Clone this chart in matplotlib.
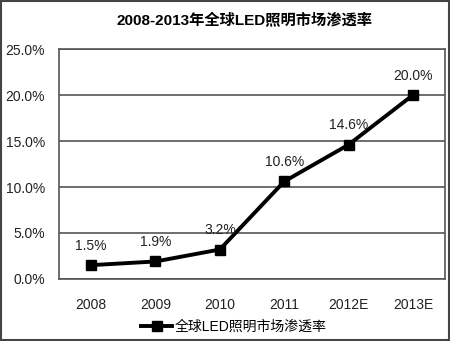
import matplotlib
matplotlib.use("Agg")
import matplotlib.pyplot as plt
from matplotlib.patches import Rectangle

plt.rcParams['font.family'] = ['Liberation Sans', 'Noto Sans CJK SC', 'DejaVu Sans']

categories = ["2008", "2009", "2010", "2011", "2012E", "2013E"]
values = [1.5, 1.9, 3.2, 10.6, 14.6, 20.0]
yticks = [0, 5, 10, 15, 20, 25]
title = "2008-2013年全球LED照明市场渗透率"
series_name = "全球LED照明市场渗透率"

fig = plt.figure(figsize=(4.5, 3.41), dpi=100)
ax = fig.add_axes([0.131, 0.182, 0.858, 0.674])

x = list(range(len(categories)))
ax.plot(x, values, color="black", lw=2.8, marker="s", ms=7, label=series_name)
for xi, v in zip(x, values):
    ax.annotate(f"{v:.1f}%", (xi, v), xytext=(0, 9), textcoords="offset points",
                ha="center", va="bottom", fontsize=10, color="#222222")

ax.set_xlim(-0.5, len(categories) - 0.5)
ax.set_ylim(0, 25)
ax.set_yticks(yticks)
ax.set_yticklabels([f"{t:.1f}%" for t in yticks], fontsize=10, color="#222222")
ax.set_xticks(x)
ax.set_xticklabels(categories, fontsize=10, color="#222222")
ax.tick_params(length=0)
ax.tick_params(axis='x', pad=14)
ax.tick_params(axis='y', pad=10)
ax.yaxis.grid(True, color="#555555", lw=1.2)
ax.set_axisbelow(True)
for s in ax.spines.values():
    s.set_color("#555555")
    s.set_linewidth(1.2)

fig.text(0.544, 0.94, title, ha="center", va="center", fontsize=11, fontweight="bold",
         family=['Liberation Sans', 'Noto Sans CJK SC'])

ax.legend(loc="center", bbox_to_anchor=(0.453, -0.209), frameon=False, fontsize=10,
          handlelength=2.2, handletextpad=0.2)

fig.patches.append(Rectangle((0.002, 0.003), 0.996, 0.994, transform=fig.transFigure,
                             fill=False, edgecolor="#444444", lw=1.5))

fig.savefig("out.png", dpi=100)
